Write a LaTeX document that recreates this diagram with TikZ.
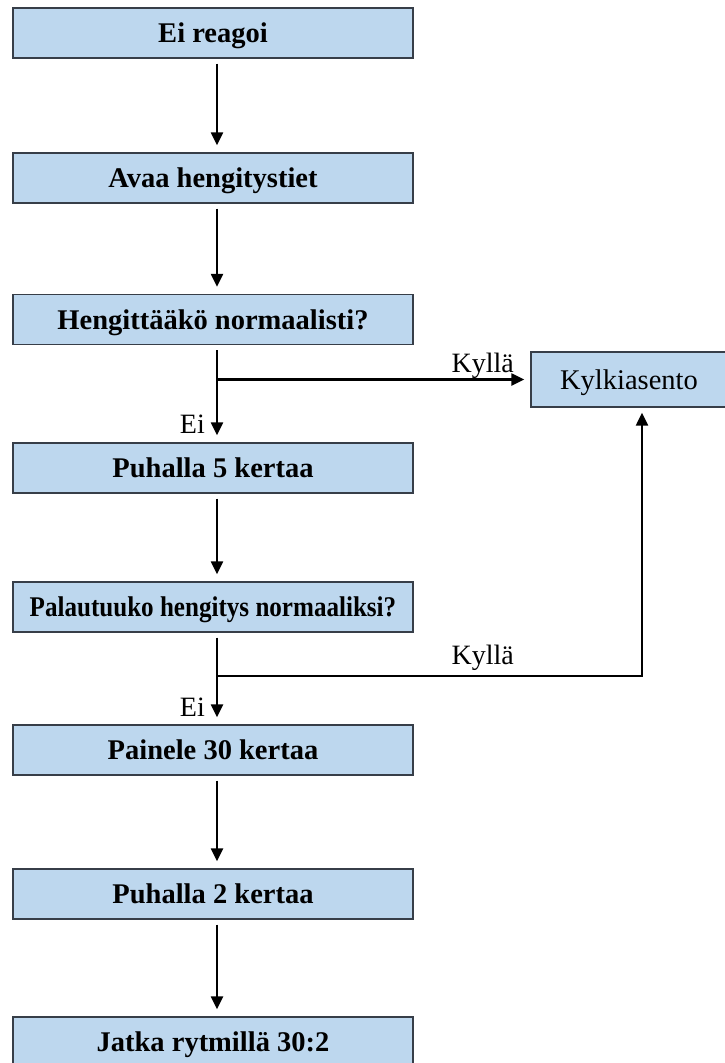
\documentclass[tikz,border=0pt]{standalone}
\usepackage{fontspec}
\usepackage{graphicx}
\setmainfont{Liberation Serif}
\usetikzlibrary{arrows.meta}
\definecolor{boxfill}{RGB}{189,215,238}
\definecolor{boxline}{RGB}{55,62,72}
\tikzset{
  x=1pt, y=-1pt,
  stepbox/.style={draw=boxline, fill=boxfill, line width=1.3pt, rectangle,
    minimum width=400pt, minimum height=50pt, inner sep=0pt,
    text height=19pt, text depth=0pt,
    font=\fontsize{28.5}{33}\selectfont\bfseries},
  sidebox/.style={draw=boxline, fill=boxfill, line width=1.3pt, rectangle,
    minimum width=196pt, minimum height=55pt, inner sep=0pt,
    text height=19pt, text depth=0pt,
    font=\fontsize{28.5}{33}\selectfont},
  lbl/.style={inner sep=0pt, font=\fontsize{28}{33}\selectfont},
  arr/.style={line width=2.2pt, -{Triangle[length=13pt,width=12pt]}},
}
\begin{document}
\begin{tikzpicture}
\useasboundingbox (0,0) rectangle (725,1063);
\clip (0,0) rectangle (725,1063);
\node[stepbox] (b1) at (213,33) {Ei reagoi};
\node[stepbox] (b2) at (213,178) {Avaa hengitystiet};
\node[stepbox] (b3) at (213,319.5) {Hengittääkö normaalisti?};
\node[stepbox] (b4) at (213,468) {Puhalla 5 kertaa};
\node[stepbox] (b5) at (213,607) {\scalebox{0.88}[1]{Palautuuko hengitys normaaliksi?}};
\node[stepbox] (b6) at (213,750) {Painele 30 kertaa};
\node[stepbox] (b7) at (213,894) {Puhalla 2 kertaa};
\node[stepbox] (b8) at (213,1042) {Jatka rytmillä 30:2};
\node[sidebox] (kyl) at (629,379.5) {Kylkiasento};

\draw[arr] ([xshift=4pt,yshift=-5pt]b1.south) -- ([xshift=4pt,yshift=7pt]b2.north);
\draw[arr] ([xshift=4pt,yshift=-5pt]b2.south) -- ([xshift=4pt,yshift=7pt]b3.north);
\draw[arr] ([xshift=4pt,yshift=-5pt]b3.south) -- ([xshift=4pt,yshift=7pt]b4.north);
\draw[arr] ([xshift=4pt,yshift=-5pt]b4.south) -- ([xshift=4pt,yshift=7pt]b5.north);
\draw[arr] ([xshift=4pt,yshift=-5pt]b5.south) -- ([xshift=4pt,yshift=7pt]b6.north);
\draw[arr] ([xshift=4pt,yshift=-5pt]b6.south) -- ([xshift=4pt,yshift=7pt]b7.north);
\draw[arr] ([xshift=4pt,yshift=-5pt]b7.south) -- ([xshift=4pt,yshift=7pt]b8.north);

\coordinate (c3) at ([xshift=4pt]b3.south);
\coordinate (j1) at (c3 |- kyl.west);
\draw[arr] (j1) -- ([xshift=-6pt]kyl.west);

\coordinate (j2) at (217,676);
\coordinate (up) at ([xshift=13pt,yshift=-5pt]kyl.south);
\draw[arr] (j2) -| (up);

\node[lbl, anchor=base east] (k1) at (514,372) {Kyllä};
\node[lbl, anchor=base east] (k2) at (514,664) {Kyllä};
\node[lbl, anchor=base east] (e1) at (205,433) {Ei};
\node[lbl, anchor=base east] (e2) at (205,716) {Ei};
\end{tikzpicture}
\end{document}
